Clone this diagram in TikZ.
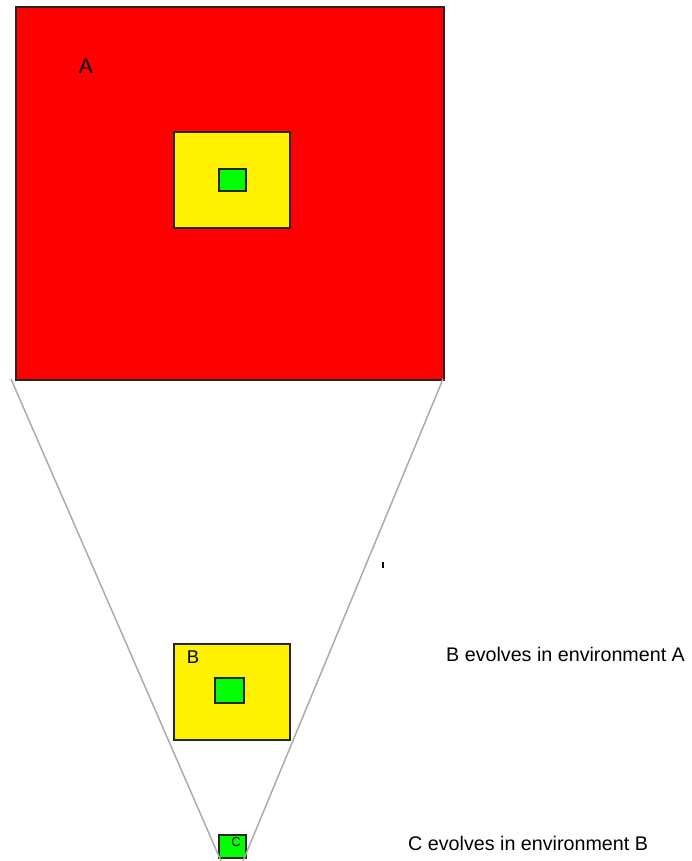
\documentclass[tikz,border=0pt]{standalone}
\usepackage{fontspec}
\setmainfont{Liberation Sans}
\begin{document}
\begin{tikzpicture}[x=1pt, y=-1pt, font=\fontsize{19.7}{22}\selectfont,
    envbox/.style={draw=black!85, line width=1.7pt, inner sep=0pt, anchor=north west},
    cone/.style={draw=black!33, line width=1.5pt}]
  \useasboundingbox (0,0) rectangle (692,861);
  % environment A with B and C inside
  \node[envbox, fill=red, minimum width=428pt, minimum height=373pt] (envA) at (15,6) {};
  \node[font=\fontsize{21}{24}\selectfont] (labA) at (86,66) {A};
  \node[envbox, fill=yellow, minimum width=116pt, minimum height=96pt] (inB) at (173,131) {};
  \node[envbox, fill=green, minimum width=27pt, minimum height=22pt] (inC) at (218,168) {};
  % B on its own
  \node[envbox, fill=yellow, minimum width=116pt, minimum height=96pt] (envB) at (173,643) {};
  \node[font=\fontsize{18.5}{21}\selectfont] (labB) at (193,657) {B};
  \node[envbox, fill=green, minimum width=29pt, minimum height=25pt] (inBC) at (214,677) {};
  % C on its own
  \node[envbox, fill=green, minimum width=27pt, minimum height=23pt] (envC) at (218,834) {};
  \node[font=\fontsize{13}{15}\selectfont] (labC) at (236,842) {C};
  % zoom cone
  \coordinate (topL) at (11,379);
  \coordinate (topR) at (443,379);
  \coordinate (botL) at (221,861);
  \coordinate (botR) at (243,861);
  \draw[cone] (topL) -- (botL);
  \draw[cone] (topR) -- (botR);
  \draw[line width=1.5pt] (383,562) -- (383,568);
  \node[anchor=west, inner sep=0pt] (txtB) at (446,654) {B evolves in environment A};
  \node[anchor=west, inner sep=0pt] (txtC) at (408,843) {C evolves in environment B};
\end{tikzpicture}
\end{document}
